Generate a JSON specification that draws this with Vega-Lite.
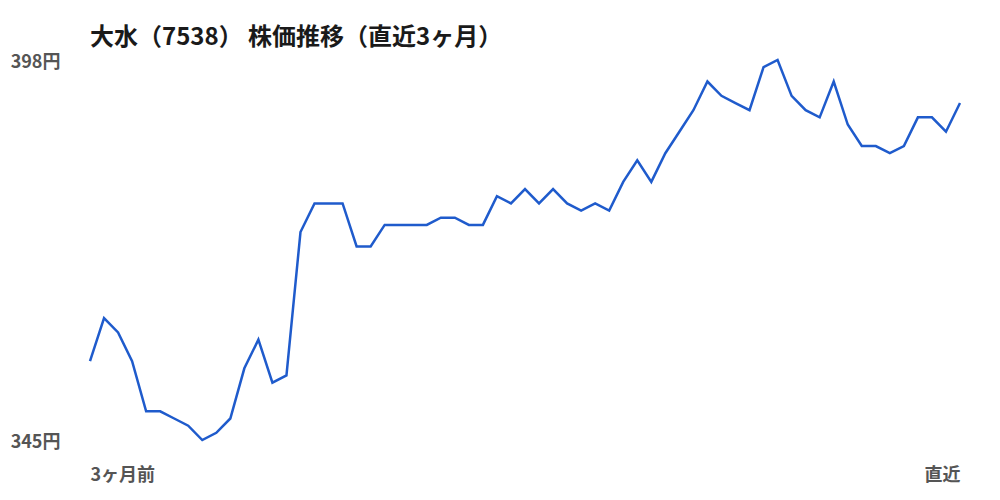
{
  "$schema": "https://vega.github.io/schema/vega-lite/v6.json",
  "width": 870,
  "height": 380,
  "autosize": {"type": "none"},
  "padding": {"left": 90, "top": 60, "right": 40, "bottom": 60},
  "background": "white",
  "config": {
    "view": {"stroke": null},
    "font": "Noto Sans CJK JP"
  },
  "title": {
    "text": "大水（7538） 株価推移（直近3ヶ月）",
    "anchor": "start",
    "frame": "group",
    "font": "Noto Sans CJK JP",
    "fontSize": 24,
    "fontWeight": "bold",
    "color": "#1a1a1a",
    "offset": 3
  },
  "data": {
    "values": [
      {"day": 0, "price": 356}, {"day": 1, "price": 362}, {"day": 2, "price": 360},
      {"day": 3, "price": 356}, {"day": 4, "price": 349}, {"day": 5, "price": 349},
      {"day": 6, "price": 348}, {"day": 7, "price": 347}, {"day": 8, "price": 345},
      {"day": 9, "price": 346}, {"day": 10, "price": 348}, {"day": 11, "price": 355},
      {"day": 12, "price": 359}, {"day": 13, "price": 353}, {"day": 14, "price": 354},
      {"day": 15, "price": 374}, {"day": 16, "price": 378}, {"day": 17, "price": 378},
      {"day": 18, "price": 378}, {"day": 19, "price": 372}, {"day": 20, "price": 372},
      {"day": 21, "price": 375}, {"day": 22, "price": 375}, {"day": 23, "price": 375},
      {"day": 24, "price": 375}, {"day": 25, "price": 376}, {"day": 26, "price": 376},
      {"day": 27, "price": 375}, {"day": 28, "price": 375}, {"day": 29, "price": 379},
      {"day": 30, "price": 378}, {"day": 31, "price": 380}, {"day": 32, "price": 378},
      {"day": 33, "price": 380}, {"day": 34, "price": 378}, {"day": 35, "price": 377},
      {"day": 36, "price": 378}, {"day": 37, "price": 377}, {"day": 38, "price": 381},
      {"day": 39, "price": 384}, {"day": 40, "price": 381}, {"day": 41, "price": 385},
      {"day": 42, "price": 388}, {"day": 43, "price": 391}, {"day": 44, "price": 395},
      {"day": 45, "price": 393}, {"day": 46, "price": 392}, {"day": 47, "price": 391},
      {"day": 48, "price": 397}, {"day": 49, "price": 398}, {"day": 50, "price": 393},
      {"day": 51, "price": 391}, {"day": 52, "price": 390}, {"day": 53, "price": 395},
      {"day": 54, "price": 389}, {"day": 55, "price": 386}, {"day": 56, "price": 386},
      {"day": 57, "price": 385}, {"day": 58, "price": 386}, {"day": 59, "price": 390},
      {"day": 60, "price": 390}, {"day": 61, "price": 388}, {"day": 62, "price": 392}
    ]
  },
  "mark": {"type": "line", "color": "#1f5bcc", "strokeWidth": 2.5, "strokeJoin": "miter"},
  "encoding": {
    "x": {
      "field": "day",
      "type": "quantitative",
      "scale": {"domain": [0, 62], "nice": false, "zero": false},
      "axis": {
        "title": null,
        "grid": false,
        "domain": false,
        "ticks": false,
        "values": [0, 62],
        "labelExpr": "datum.value == 0 ? '3ヶ月前' : '直近'",
        "labelAlign": {"expr": "datum.value == 0 ? 'left' : 'right'"},
        "labelFont": "Noto Sans CJK JP",
        "labelFontSize": 18,
        "labelFontWeight": "bold",
        "labelColor": "#555555",
        "labelBaseline": "top",
        "labelPadding": 26,
        "labelFlush": false
      }
    },
    "y": {
      "field": "price",
      "type": "quantitative",
      "scale": {"domain": [345, 398], "nice": false, "zero": false},
      "axis": {
        "title": null,
        "grid": false,
        "domain": false,
        "ticks": false,
        "values": [345, 398],
        "labelExpr": "datum.value + '円'",
        "labelFont": "Noto Sans CJK JP",
        "labelFontSize": 18,
        "labelFontWeight": "bold",
        "labelColor": "#555555",
        "labelAlign": "right",
        "labelBaseline": "middle",
        "labelPadding": 30,
        "labelFlush": false,
        "labelOffset": 2
      }
    }
  }
}
